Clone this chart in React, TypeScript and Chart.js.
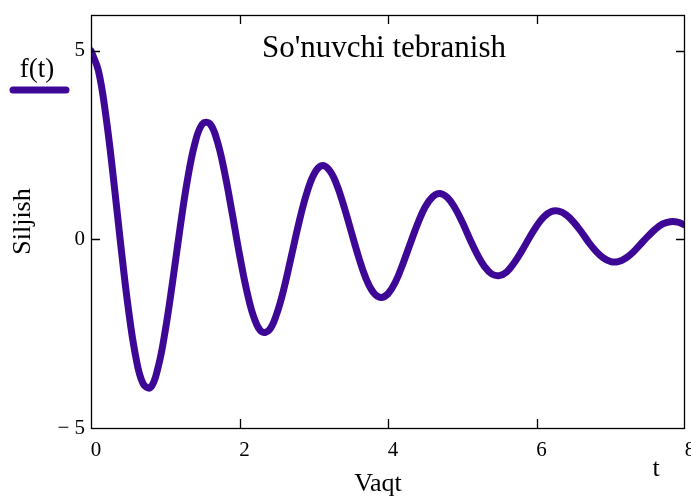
import React, { useEffect, useRef } from "react";
import { Chart, registerables } from "chart.js";

Chart.register(...registerables);

const tValues = [
  0, 0.1, 0.2, 0.3, 0.4, 0.5, 0.6, 0.7, 0.8, 0.9,
  1.0, 1.1, 1.2, 1.3, 1.4, 1.5, 1.6, 1.7, 1.8, 1.9,
  2.0, 2.1, 2.2, 2.3, 2.4, 2.5, 2.6, 2.7, 2.8, 2.9,
  3.0, 3.1, 3.2, 3.3, 3.4, 3.5, 3.6, 3.7, 3.8, 3.9,
  4.0, 4.1, 4.2, 4.3, 4.4, 4.5, 4.6, 4.7, 4.8, 4.9,
  5.0, 5.1, 5.2, 5.3, 5.4, 5.5, 5.6, 5.7, 5.8, 5.9,
  6.0, 6.1, 6.2, 6.3, 6.4, 6.5, 6.6, 6.7, 6.8, 6.9,
  7.0, 7.1, 7.2, 7.3, 7.4, 7.5, 7.6, 7.7, 7.8, 7.9,
  8.0,
];

const fValues = [
  5.0, 4.47, 3.28, 1.66, -0.13, -1.79, -3.08, -3.82, -3.93, -3.42,
  -2.42, -1.11, 0.31, 1.59, 2.55, 3.06, 3.07, 2.61, 1.77, 0.71,
  -0.4, -1.38, -2.1, -2.45, -2.4, -1.98, -1.29, -0.43, 0.44, 1.19,
  1.72, 1.95, 1.86, 1.5, 0.92, 0.24, -0.44, -1.02, -1.4, -1.54,
  -1.44, -1.13, -0.65, -0.11, 0.42, 0.86, 1.13, 1.22, 1.11, 0.84,
  0.46, 0.02, -0.39, -0.72, -0.92, -0.96, -0.86, -0.62, -0.31, 0.03,
  0.35, 0.6, 0.74, 0.75, 0.65, 0.46, 0.21, -0.07, -0.31, -0.49,
  -0.59, -0.59, -0.5, -0.34, -0.13, 0.08, 0.27, 0.41, 0.47, 0.46,
  0.38,
];

const xTicks = [0, 2, 4, 6, 8];
const yTicks = [-5, 0, 5];

const seriesLabel = "f(t)";
const chartTitle = "So'nuvchi tebranish";
const xTitle = "Vaqt";
const yTitle = "Siljish";
const xVarLabel = "t";

const LINE_COLOR = "#3e0896";
const SERIF = "'Liberation Serif', 'Times New Roman', serif";

const framePlugin = {
  id: "frame",
  afterDatasetsDraw(chart: any) {
    const { ctx, chartArea, scales } = chart;
    const { left, right, top, bottom } = chartArea;
    ctx.save();
    ctx.strokeStyle = "#000";
    ctx.lineWidth = 1.3;
    ctx.strokeRect(left + 0.5, top + 0.5, right - left - 1, bottom - top);
    const tl = 9;
    ctx.beginPath();
    xTicks.forEach((v) => {
      if (v === xTicks[0] || v === xTicks[xTicks.length - 1]) return;
      const x = Math.round(scales.x.getPixelForValue(v)) + 0.5;
      ctx.moveTo(x, bottom);
      ctx.lineTo(x, bottom - tl);
      ctx.moveTo(x, top);
      ctx.lineTo(x, top + tl);
    });
    yTicks.forEach((v) => {
      const y = Math.round(scales.y.getPixelForValue(v)) + 0.5;
      if (v === yTicks[0]) return;
      ctx.moveTo(left, y);
      ctx.lineTo(left + tl, y);
      ctx.moveTo(right, y);
      ctx.lineTo(right - tl, y);
    });
    ctx.stroke();
    ctx.restore();
  },
  afterDraw(chart: any) {
    const { ctx } = chart;
    ctx.save();
    ctx.fillStyle = "#000";
    ctx.textAlign = "center";
    ctx.textBaseline = "middle";
    ctx.font = `31px ${SERIF}`;
    ctx.fillText(chartTitle, 384, 49);
    ctx.font = `26px ${SERIF}`;
    ctx.fillText(xTitle, 378, 484);
    ctx.font = `26px ${SERIF}`;
    ctx.fillText(xVarLabel, 656, 469);
    // legend
    ctx.font = `27px ${SERIF}`;
    ctx.fillText(seriesLabel, 37, 70);
    ctx.strokeStyle = LINE_COLOR;
    ctx.lineWidth = 7;
    ctx.lineCap = "round";
    ctx.beginPath();
    ctx.moveTo(13, 90);
    ctx.lineTo(66, 90);
    ctx.stroke();
    ctx.restore();
  },
};

export default function App() {
  const canvasRef = useRef<HTMLCanvasElement | null>(null);

  useEffect(() => {
    document.body.style.margin = "0";
    const canvas = canvasRef.current;
    if (!canvas) return;
    const chart = new Chart(canvas, {
      type: "line",
      data: {
        labels: tValues,
        datasets: [
          {
            label: seriesLabel,
            data: tValues.map((t, i) => ({ x: t, y: fValues[i] })),
            borderColor: LINE_COLOR,
            backgroundColor: LINE_COLOR,
            borderWidth: 7,
            pointRadius: 0,
            tension: 0.4,
            fill: false,
            borderCapStyle: "round",
            borderJoinStyle: "round",
          },
        ],
      },
      options: {
        animation: false,
        responsive: false,
        maintainAspectRatio: false,
        devicePixelRatio: 1,
        layout: { padding: { left: 8, top: 15, right: 6, bottom: 0 } },
        plugins: {
          legend: { display: false },
          tooltip: { enabled: false },
          title: { display: false },
        },
        scales: {
          x: {
            type: "linear",
            min: 0,
            max: 8,
            afterBuildTicks: (s: any) => {
              s.ticks = xTicks.map((v) => ({ value: v }));
            },
            afterFit: (s: any) => {
              s.height = 69;
              s.paddingLeft = 0;
              s.paddingRight = 0;
            },
            ticks: {
              color: "#000",
              font: { family: SERIF, size: 21 },
              padding: 10,
              labelOffset: 5,
              maxRotation: 0,
              autoSkip: false,
            },
            grid: { display: false, drawTicks: false },
            border: { display: false },
            title: { display: false },
          },
          y: {
            type: "linear",
            min: -5,
            max: 5.95,
            afterBuildTicks: (s: any) => {
              s.ticks = yTicks.map((v) => ({ value: v }));
            },
            afterFit: (s: any) => {
              s.width = 83;
              s.paddingTop = 0;
              s.paddingBottom = 0;
            },
            ticks: {
              color: "#000",
              font: { family: SERIF, size: 21 },
              padding: 6,
              callback: (v: any) => (Number(v) < 0 ? "\u2212 " + Math.abs(Number(v)) : String(v)),
            },
            grid: { display: false, drawTicks: false },
            border: { display: false },
            title: {
              display: true,
              text: yTitle,
              color: "#000",
              font: { family: SERIF, size: 26 },
              padding: { top: 0, bottom: 0 },
            },
          },
        },
      },
      plugins: [framePlugin],
    });
    return () => chart.destroy();
  }, []);

  return (
    <div style={{ position: "absolute", left: 0, top: 0, width: 691, height: 497, background: "#fff" }}>
      <canvas ref={canvasRef} width={691} height={497} style={{ width: 691, height: 497, display: "block" }} />
    </div>
  );
}
